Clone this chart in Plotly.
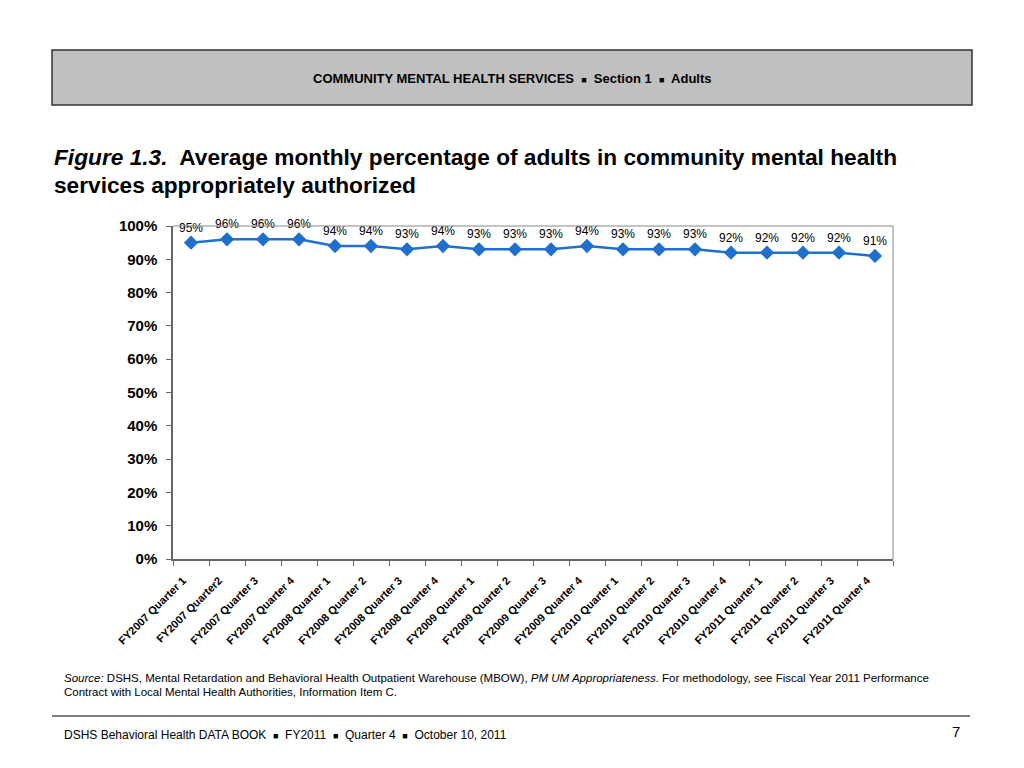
import plotly.graph_objects as go

categories = [
    "FY2007 Quarter 1", "FY2007 Quarter2", "FY2007 Quarter 3", "FY2007 Quarter 4",
    "FY2008 Quarter 1", "FY2008 Quarter 2", "FY2008 Quarter 3", "FY2008 Quarter 4",
    "FY2009 Quarter 1", "FY2009 Quarter 2", "FY2009 Quarter 3", "FY2009 Quarter 4",
    "FY2010 Quarter 1", "FY2010 Quarter 2", "FY2010 Quarter 3", "FY2010 Quarter 4",
    "FY2011 Quarter 1", "FY2011 Quarter 2", "FY2011 Quarter 3", "FY2011 Quarter 4",
]
values = [0.95, 0.96, 0.96, 0.96, 0.94, 0.94, 0.93, 0.94, 0.93, 0.93,
          0.93, 0.94, 0.93, 0.93, 0.93, 0.92, 0.92, 0.92, 0.92, 0.91]
labels = [f"{round(v*100)}%" for v in values]

OFF = 8  # page body margin
W, H = 1024 - OFF, 768 - OFF
L, R, T, B = 173, 893, 226, 559  # reference page coordinates
FONT = "Liberation Sans, Arial, sans-serif"


def px(x):
    return (x - L) / (R - L)


def py(y):
    return (B - y) / (B - T)


fig = go.Figure()
fig.add_trace(go.Scatter(
    x=categories, y=values, mode="lines+markers+text",
    text=labels, textposition="top center",
    textfont=dict(family=FONT, size=12, color="#000"),
    line=dict(color="#1F6FCF", width=2.5),
    marker=dict(symbol="diamond", size=11, color="#1F6FCF"),
    cliponaxis=False, showlegend=False,
))

fig.update_layout(
    width=W, height=H, autosize=False,
    margin=dict(l=L - OFF, r=W - (R - OFF), t=T - OFF, b=H - (B - OFF)),
    paper_bgcolor="white", plot_bgcolor="white",
    font=dict(family=FONT, color="#000"),
    xaxis=dict(
        type="category", tickson="boundaries", ticks="outside", ticklen=5,
        tickcolor="#666", showline=True, linecolor="#666", linewidth=1.5,
        mirror=False, showgrid=False, tickangle=-45,
        ticklabelstandoff=9, ticklabelshift=-8,
        tickfont=dict(family=FONT, size=11, color="#000", weight="bold"),
        range=[-0.5, 19.5],
    ),
    yaxis=dict(
        range=[0, 1.0], dtick=0.1, tickformat=".0%", ticks="outside",
        ticklen=5, tickcolor="#666", showline=True, linecolor="#666",
        linewidth=1.5, showgrid=False, zeroline=False, ticklabelstandoff=6,
        tickfont=dict(family=FONT, size=15, color="#000", weight="bold"),
    ),
)

shapes = [
    dict(type="line", xref="paper", yref="paper", x0=0, x1=1, y0=1, y1=1,
         line=dict(color="#888", width=1.2)),
    dict(type="line", xref="paper", yref="paper", x0=1, x1=1, y0=0, y1=1,
         line=dict(color="#999", width=1.2)),
    dict(type="rect", xref="paper", yref="paper", x0=px(52), x1=px(972),
         y0=py(105), y1=py(50), fillcolor="#C0C0C0",
         line=dict(color="#333", width=1.5), layer="below"),
    dict(type="line", xref="paper", yref="paper", x0=px(52), x1=px(970),
         y0=py(716), y1=py(716), line=dict(color="#555", width=1.5)),
]
fig.update_layout(shapes=shapes)

sq = "<span style='font-size:9px'>■</span>"
annotations = [
    dict(text=f"<b>COMMUNITY MENTAL HEALTH SERVICES  {sq}  Section 1  {sq}  Adults</b>",
         x=px(512), y=py(78), xanchor="center", yanchor="middle",
         font=dict(family=FONT, size=13, color="#000")),
    dict(text="<b><i>Figure 1.3.</i>  Average monthly percentage of adults in community mental health</b>",
         x=px(52), y=py(157), xanchor="left", yanchor="middle",
         font=dict(family=FONT, size=22.7, color="#000")),
    dict(text="<b>services appropriately authorized</b>",
         x=px(52), y=py(185), xanchor="left", yanchor="middle",
         font=dict(family=FONT, size=22.7, color="#000")),
    dict(text="<i>Source:</i> DSHS, Mental Retardation and Behavioral Health Outpatient Warehouse (MBOW), "
              "<i>PM UM Appropriateness</i>. For methodology, see Fiscal Year 2011 Performance",
         x=px(62), y=py(678), xanchor="left", yanchor="middle",
         font=dict(family=FONT, size=11.5, color="#000")),
    dict(text="Contract with Local Mental Health Authorities, Information Item C.",
         x=px(62), y=py(692), xanchor="left", yanchor="middle",
         font=dict(family=FONT, size=11.5, color="#000")),
    dict(text=f"DSHS Behavioral Health DATA BOOK  {sq}  FY2011  {sq}  Quarter 4  {sq}  October 10, 2011",
         x=px(62), y=py(735), xanchor="left", yanchor="middle",
         font=dict(family=FONT, size=12, color="#000")),
    dict(text="7", x=px(962), y=py(731), xanchor="right", yanchor="middle",
         font=dict(family=FONT, size=15, color="#000")),
]
for a in annotations:
    a.update(xref="paper", yref="paper", showarrow=False)
fig.update_layout(annotations=annotations)

fig.write_html("out.html")
